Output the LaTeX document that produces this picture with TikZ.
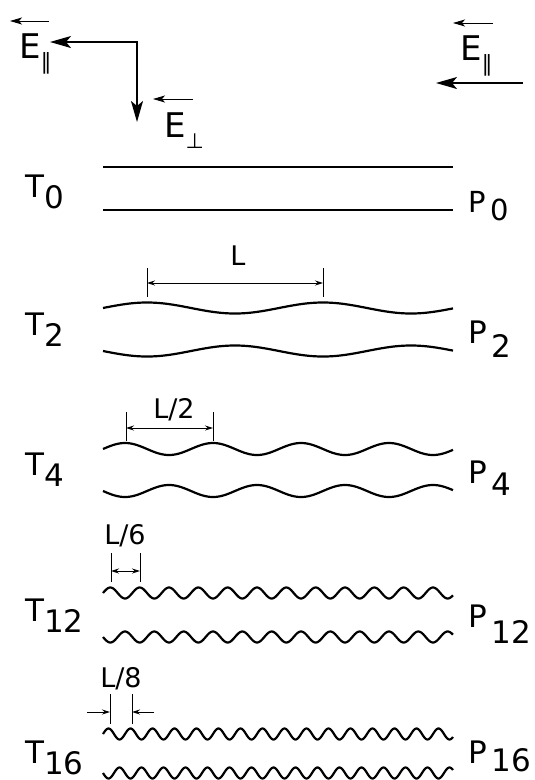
\documentclass[tikz,border=0pt]{standalone}
\usepackage{fontspec}
\setmainfont{DejaVu Sans}
\usetikzlibrary{arrows.meta}

\begin{document}
\begin{tikzpicture}[x=1pt, y=-1pt, every node/.style={inner sep=0pt},
  lab/.style={font=\fontsize{31}{31}\selectfont, anchor=base west},
  elab/.style={font=\fontsize{34}{34}\selectfont, anchor=base west},
  dimlab/.style={font=\fontsize{27}{27}\selectfont, anchor=base},
  wall/.style={line width=2.2pt},
  tick/.style={line width=0.9pt},
  dim/.style={line width=0.9pt, {Stealth[length=8pt,width=5pt]}-{Stealth[length=8pt,width=5pt]}},
  dimin/.style={line width=0.9pt, -{Stealth[length=8pt,width=5pt]}},
  pol/.style={line width=1.6pt, {Stealth[length=21pt,width=12pt,inset=5pt]}-{Stealth[length=21pt,width=12pt,inset=5pt]}},
  polin/.style={line width=1.6pt, -{Stealth[length=21pt,width=12pt,inset=5pt]}},
  over/.style={line width=0.9pt, -{Stealth[length=12pt,width=7pt,inset=3pt]}}]
  \useasboundingbox (0,0) rectangle (535,780);

  % field directions
  \coordinate (corner) at (137,42);
  \coordinate (parEnd) at (50,42);
  \coordinate (perpEnd) at (137,122);
  \draw[pol] (parEnd) -- (corner) -- (perpEnd);
  \coordinate (inStart) at (523,83);
  \coordinate (inEnd) at (436,83);
  \draw[polin] (inStart) -- (inEnd);

  \node[elab] (Epar) at (19,58) {E\raisebox{-11pt}{\fontsize{22}{22}\selectfont ∥}};
  \node[elab] (Eperp) at (164,137) {E\raisebox{-11pt}{\fontsize{21}{21}\selectfont ⊥}};
  \node[elab] (Eright) at (460,60) {E\raisebox{-11pt}{\fontsize{22}{22}\selectfont ∥}};
  \coordinate (ovA) at (49,21);  \coordinate (ovA') at (10,21);
  \coordinate (ovB) at (193,99); \coordinate (ovB') at (153,99);
  \coordinate (ovC) at (493,23); \coordinate (ovC') at (453,23);
  \draw[over] (ovA) -- (ovA');
  \draw[over] (ovB) -- (ovB');
  \draw[over] (ovC) -- (ovC');

  % straight tube
  \draw[wall] (103,167) -- (453,167);
  \draw[wall] (103,210) -- (453,210);

  % corrugated tubes
  \foreach \yt/\yb/\lam/\amp in {308/351/176/5.5, 449/491/88/6, 593/637/29.333/5.5, 734/773/22/5.5}{
    \draw[wall] plot[domain=103:453, samples=400] (\x,{\yt-\amp*sin((\x-103)/\lam*360)});
    \draw[wall] plot[domain=103:453, samples=400] (\x,{\yb+\amp*sin((\x-103)/\lam*360)});
  }

  % labels
  \foreach \n/\yb in {0/197, 2/335, 4/475, 12/621, 16/763}
    \node[lab] (T\n) at (25,\yb) {T\raisebox{-11pt}{\n}};
  \foreach \n/\yb/\dr/\fs in {0/212/8/29, 2/343/14/31, 4/483/12/31, 12/627/16/31, 16/763/8/31}
    \node[lab, font=\fontsize{\fs}{\fs}\selectfont] (P\n) at (468,\yb) {P\hspace{5pt}\raisebox{-\dr pt}{\n}};

  % wavelengths
  \foreach \nm/\xa/\xb/\yt/\yr in {L/147/323/268/283, H/126/213/412/428, S/111/140/553/571}{
    \draw[tick] (\xa,\yt) -- (\xa,\yt+29) (\xb,\yt) -- (\xb,\yt+29);
    \coordinate (\nm-a) at (\xa,\yr);
    \coordinate (\nm-b) at (\xb,\yr);
    \draw[dim] (\nm-a) -- (\nm-b);
  }
  \draw[tick] (110,694) -- (110,724) (132,694) -- (132,724);
  \coordinate (E-a) at (110,712); \coordinate (E-a') at (87,712);
  \coordinate (E-b) at (132,712); \coordinate (E-b') at (154,712);
  \draw[dimin] (E-a') -- (E-a);
  \draw[dimin] (E-b') -- (E-b);

  \node[dimlab] (labL) at (238,265) {L};
  \node[dimlab] (labL2) at (174,418) {L/2};
  \node[dimlab] (labL6) at (125,544) {L/6};
  \node[dimlab] (labL8) at (121,687) {L/8};
\end{tikzpicture}
\end{document}
